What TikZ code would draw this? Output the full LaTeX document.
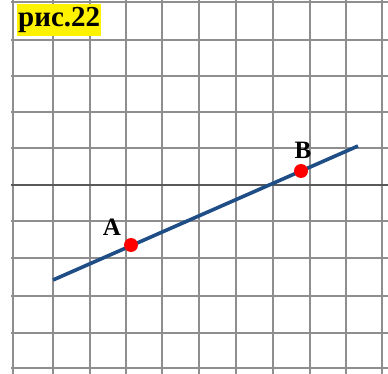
\documentclass[tikz,border=0pt]{standalone}
\usepackage{fontspec}
\setmainfont{Liberation Serif}
\definecolor{lineblue}{HTML}{1F4E86}
\definecolor{gridgray}{HTML}{8E8E8E}
\begin{document}
\begin{tikzpicture}[x=1pt,y=-1pt,
  gridline/.style={draw=gridgray,line width=1.7pt},
  axisline/.style={draw=black!65,line width=1.9pt},
  seg/.style={draw=lineblue,line width=3.6pt},
  dot/.style={circle,fill=red,inner sep=0pt,minimum size=14pt},
  lbl/.style={font=\fontsize{25}{25}\selectfont\bfseries,inner sep=0pt},
  title/.style={fill=yellow,font=\fontsize{29}{29}\selectfont\bfseries,inner xsep=1pt,inner ysep=3pt,anchor=west}]
\useasboundingbox (0,0) rectangle (388,374);
\fill[white] (0,0) rectangle (388,374);
% grid
\foreach \x in {13,53,90,126,162,199,236,273,310,346,382}
  \draw[gridline] (\x,0) -- (\x,374);
\foreach \y in {2,40,76,112,148,221,258,296,333,368}
  \draw[gridline] (11,\y) -- (388,\y);
\draw[axisline] (11,185) -- (388,185);
% title
\node[title] (t) at (17,20) {рис.22};
% segment
\coordinate (s) at (53,280);
\coordinate (e) at (358,146);
\draw[seg] (s) -- (e);
\node[dot] (A) at (131,245) {};
\node[dot] (B) at (301,171) {};
\node[lbl] (la) at (112,227) {A};
\node[lbl] (lb) at (303,150) {B};
\end{tikzpicture}
\end{document}
